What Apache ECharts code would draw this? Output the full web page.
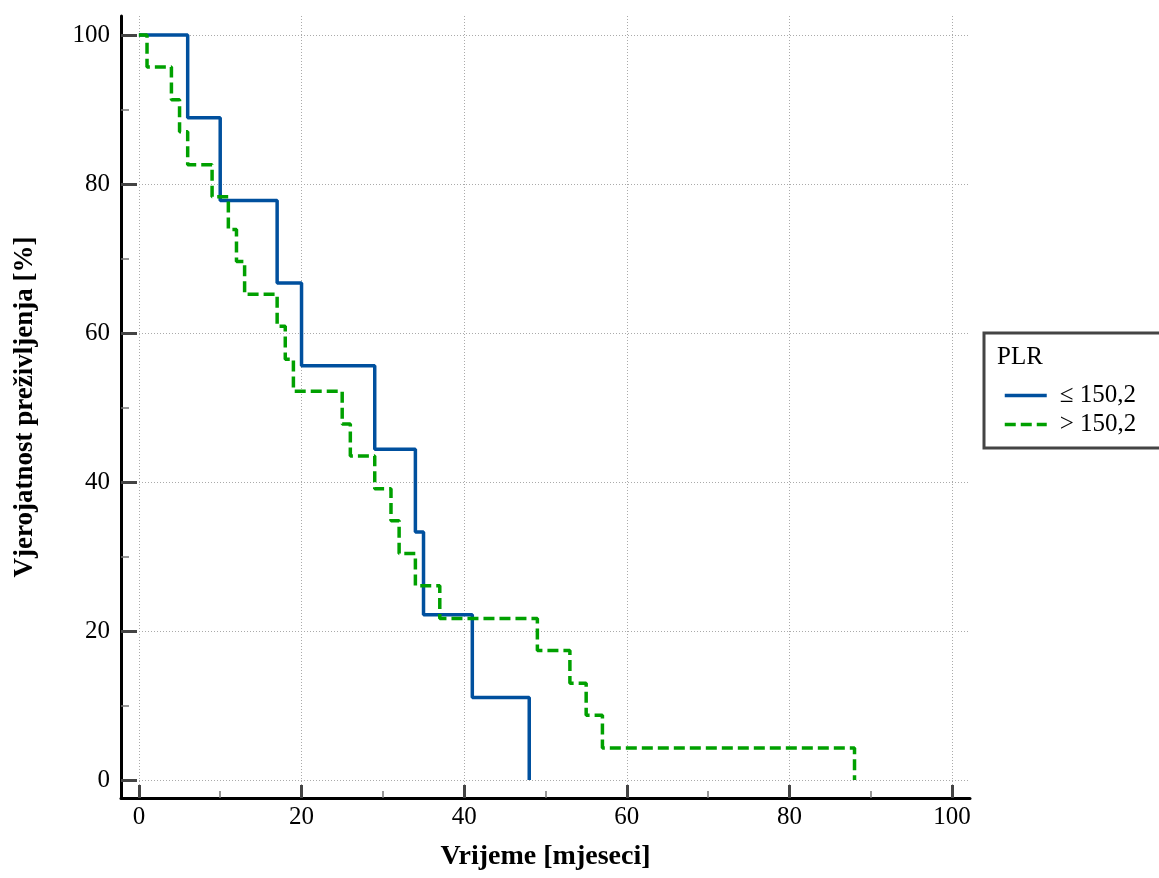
<!DOCTYPE html>
<html>
<head>
<meta charset="utf-8">
<title>PLR</title>
<script src="https://cdn.jsdelivr.net/npm/echarts@6/dist/echarts.min.js"></script>
<style>
  html, body { margin: 0; padding: 0; background: #fff; }
  #chart { width: 1159px; height: 878px; }
</style>
</head>
<body>
<div id="chart"></div>
<script>
// Kaplan-Meier steps
var timeLow = [0, 6, 10, 17, 20, 29, 34, 35, 41, 48];
var survLow = [100, 88.9, 77.8, 66.7, 55.6, 44.4, 33.3, 22.2, 11.1, 0];

var timeHigh = [0, 1, 4, 5, 6, 9, 11, 12, 13, 17, 18, 19, 25, 26, 29, 31, 32, 34, 37, 49, 53, 55, 57, 88];
var survHigh = [100, 95.7, 91.3, 87.0, 82.6, 78.3, 73.9, 69.6, 65.2, 60.9, 56.5, 52.2, 47.8, 43.5, 39.1, 34.8, 30.4, 26.1, 21.7, 17.4, 13.0, 8.7, 4.3, 0];

var majorTicks = [0, 20, 40, 60, 80, 100];
var minorTicks = [10, 30, 50, 70, 90];

var nameLow = '\u2264 150,2';
var nameHigh = '> 150,2';

function pairs(xs, ys) {
    var out = [];
    for (var i = 0; i < xs.length; i++) out.push([xs[i], ys[i]]);
    return out;
}

var font = 'Liberation Serif';
var chart = echarts.init(document.getElementById('chart'));

function majorAxis(extra) {
    return Object.assign({
        type: 'value',
        axisLine: { show: true, onZero: false, lineStyle: { color: '#000', width: 3 } },
        splitLine: { show: true, lineStyle: { color: '#aaa', width: 1, type: [1, 2] } },
        nameTextStyle: { color: '#000', fontSize: 28, fontWeight: 'bold', fontFamily: font },
        nameLocation: 'middle'
    }, extra);
}

function minorAxis(extra) {
    return Object.assign({
        type: 'value',
        axisLine: { show: false, onZero: false },
        axisLabel: { show: false },
        splitLine: { show: false }
    }, extra);
}

var option = {
    animation: false,
    backgroundColor: '#fff',
    textStyle: { fontFamily: font },
    grid: { left: 121, right: 189, top: 16, bottom: 80, containLabel: false },
    xAxis: [
        majorAxis({ min: -2.2, max: 102.2, position: 'bottom', name: 'Vrijeme [mjeseci]', nameGap: 45,
            axisTick: { show: true, inside: true, length: 13, customValues: majorTicks, lineStyle: { color: '#444', width: 3 } },
            axisLabel: { customValues: majorTicks, color: '#000', fontSize: 25, fontFamily: font, margin: 7 } }),
        minorAxis({ min: -2.2, max: 102.2, position: 'bottom',
            axisTick: { show: true, inside: true, length: 7, customValues: minorTicks, lineStyle: { color: '#777', width: 1.5 } } })
    ],
    yAxis: [
        majorAxis({ min: -2.4, max: 102.55, position: 'left', name: 'Vjerojatnost preživljenja [%]', nameGap: 82,
            nameTextStyle: { color: '#000', fontSize: 27, fontWeight: 'bold', fontFamily: font },
            axisTick: { show: true, inside: true, length: 16, customValues: majorTicks, lineStyle: { color: '#444', width: 3 } },
            axisLabel: { customValues: majorTicks, color: '#000', fontSize: 25, fontFamily: font, margin: 11 } }),
        minorAxis({ min: -2.4, max: 102.55, position: 'left',
            axisTick: { show: true, inside: true, length: 8, customValues: minorTicks, lineStyle: { color: '#777', width: 1.5 } } })
    ],
    legend: {
        left: 998,
        top: 378,
        orient: 'vertical',
        itemWidth: 42,
        itemHeight: 14,
        itemGap: 4,
        data: [nameLow, nameHigh],
        itemStyle: { color: 'transparent', borderColor: 'transparent', borderWidth: 0, opacity: 0 },
        lineStyle: { width: 3.5 },
        textStyle: { color: '#000', fontSize: 25, fontFamily: font, padding: [0, 0, 0, 8] }
    },
    graphic: [
        {
            type: 'rect',
            shape: { x: 984, y: 333, width: 200, height: 115 },
            style: { fill: '#fff', stroke: '#444', lineWidth: 3 },
            z: -1
        },
        {
            type: 'text',
            left: 997,
            top: 345,
            style: { text: 'PLR', fill: '#000', font: '25px "Liberation Serif"' }
        }
    ],
    series: [
        {
            name: nameLow,
            type: 'line',
            step: 'end',
            symbol: 'none',
            data: pairs(timeLow, survLow),
            lineStyle: { color: '#00509e', width: 3.5 },
            itemStyle: { color: '#00509e' },
            z: 3
        },
        {
            name: nameHigh,
            type: 'line',
            step: 'end',
            symbol: 'none',
            data: pairs(timeHigh, survHigh),
            lineStyle: { color: '#00a000', width: 3.5, type: [11, 5] },
            itemStyle: { color: '#00a000' },
            z: 4
        }
    ]
};

chart.setOption(option);
</script>
</body>
</html>
